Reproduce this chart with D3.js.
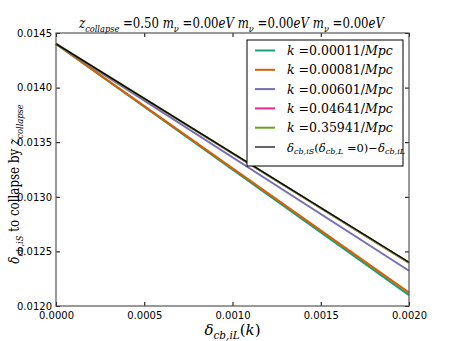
<!DOCTYPE html>
<html>
<head>
<meta charset="utf-8">
<script src="https://cdn.jsdelivr.net/npm/d3@7"></script>
<style>
  body { margin: 0; background: #fff; }
  .tick text { font-family: "DejaVu Sans", sans-serif; font-size: 10px; fill: #000; }
  .math { font-family: "DejaVu Serif", serif; white-space: pre; }
</style>
</head>
<body>
<div id="chart"></div>
<script>
// data
var xEnds = [0.0, 0.002];
var labels = ["k=0.00011/Mpc", "k=0.00081/Mpc", "k=0.00601/Mpc", "k=0.04641/Mpc", "k=0.35941/Mpc", "ref"];
var startVals = [0.01440, 0.01440, 0.01440, 0.01440, 0.01440, 0.01440];
var endVals = [0.012100, 0.012122, 0.012323, 0.012395, 0.012397, 0.012400];
var colors = ["#1b9e77", "#d95f02", "#7570b3", "#e7298a", "#66a61e", "#000000"];
var xTicks = [0, 0.0005, 0.001, 0.0015, 0.002];
var yTicks = [0.0120, 0.0125, 0.0130, 0.0135, 0.0140, 0.0145];

var svgWidth = 455, svgHeight = 341;
var margin = { top: 33, right: 46, bottom: 35, left: 56 };
var width = svgWidth - margin.left - margin.right;
var height = svgHeight - margin.top - margin.bottom;

var svg = d3.select("#chart").append("svg")
  .attr("width", svgWidth)
  .attr("height", svgHeight);

var chartGroup = svg.append("g")
  .attr("transform", `translate(${margin.left}, ${margin.top})`);

var x = d3.scaleLinear().domain([0, 0.002]).range([0, width]);
var y = d3.scaleLinear().domain([0.0120, 0.0145]).range([height, 0]);

// series lines
var line = d3.line().x(d => x(d[0])).y(d => y(d[1]));
labels.forEach(function (lab, i) {
  var pts = [[xEnds[0], startVals[i]], [xEnds[1], endVals[i]]];
  chartGroup.append("path")
    .datum(pts)
    .attr("d", line)
    .attr("fill", "none")
    .attr("stroke", colors[i])
    .attr("stroke-width", i == 5 ? 1.3 : 2);
});

// axes, ticks inward on all sides
var fmt = d3.format(".4f");
chartGroup.append("g")
  .attr("transform", `translate(0, ${height})`)
  .call(d3.axisBottom(x).tickValues(xTicks).tickFormat(fmt).tickSizeInner(-4).tickSizeOuter(0).tickPadding(6));
chartGroup.append("g")
  .call(d3.axisTop(x).tickValues(xTicks).tickFormat("").tickSizeInner(-4).tickSizeOuter(0));
chartGroup.append("g")
  .call(d3.axisLeft(y).tickValues(yTicks).tickFormat(fmt).tickSizeInner(-4).tickSizeOuter(0).tickPadding(4));
chartGroup.append("g")
  .attr("transform", `translate(${width}, 0)`)
  .call(d3.axisRight(y).tickValues(yTicks).tickFormat("").tickSizeInner(-4).tickSizeOuter(0));
chartGroup.selectAll(".domain").remove();
chartGroup.selectAll(".tick line").attr("stroke", "#000");

chartGroup.append("rect")
  .attr("width", width).attr("height", height)
  .attr("fill", "none").attr("stroke", "#555").attr("stroke-width", 1.2);

// helper for mathtext pieces: [text, italic, sub]
function mathText(sel, parts, size) {
  var shifted = 0;
  parts.forEach(function (p) {
    var t = sel.append("tspan")
      .text(p[0])
      .attr("font-style", p[1] ? "italic" : "normal")
      .attr("font-size", p[2] ? size * 0.7 : size);
    var want = p[2] ? size * 0.25 : 0;
    if (want != shifted) { t.attr("dy", want - shifted); shifted = want; }
  });
}

// title (squeezed a bit to match the narrower TeX font)
var title = svg.append("text").attr("class", "math")
  .attr("transform", `translate(${margin.left + width / 2 - 1}, 28) scale(0.84, 1)`)
  .attr("text-anchor", "middle");
mathText(title, [["z", 1], ["collapse", 1, 1], [" =0.50 ", 0], ["m", 1], ["ν", 1, 1], [" =0.00", 0], ["eV", 1],
  [" m", 1], ["ν", 1, 1], [" =0.00", 0], ["eV", 1], [" m", 1], ["ν", 1, 1], [" =0.00", 0], ["eV", 1]], 14);

// axis labels
var xl = svg.append("text").attr("class", "math")
  .attr("x", margin.left + width / 2).attr("y", 335)
  .attr("text-anchor", "middle");
mathText(xl, [["δ", 1], ["cb,iL", 1, 1], ["(", 0], ["k", 1], [")", 0]], 15);

var yl = svg.append("text").attr("class", "math")
  .attr("transform", `translate(19, 184) rotate(-90) scale(0.85, 1)`)
  .attr("text-anchor", "middle");
mathText(yl, [["δ", 1], ["cb,iS", 1, 1], ["\u00a0to collapse by\u00a0", 0], ["z", 1], ["collapse", 1, 1]], 14);

// legend
var legend = svg.append("g").attr("transform", "translate(247, 40)");
legend.append("rect").attr("width", 156).attr("height", 126)
  .attr("fill", "#fff").attr("stroke", "#000").attr("stroke-width", 1);
labels.forEach(function (lab, i) {
  var ly = 10.5 + i * 19.3;
  legend.append("line").attr("x1", 8).attr("x2", 28).attr("y1", ly).attr("y2", ly)
    .attr("stroke", i == 5 ? "#666" : colors[i]).attr("stroke-width", 2);
  var t = legend.append("text").attr("class", "math").attr("x", 40).attr("y", ly + 4.5);
  if (i < 5) {
    var num = lab.slice(2, lab.indexOf("/"));
    mathText(t, [["k", 1], [" =" + num + "/", 0], ["Mpc", 1]], 12.5);
  } else {
    mathText(t, [["δ", 1], ["cb,iS", 1, 1], ["(", 0], ["δ", 1], ["cb,L", 1, 1], [" =0)−", 0], ["δ", 1], ["cb,iL", 1, 1]], 11.5);
  }
});
</script>
</body>
</html>
